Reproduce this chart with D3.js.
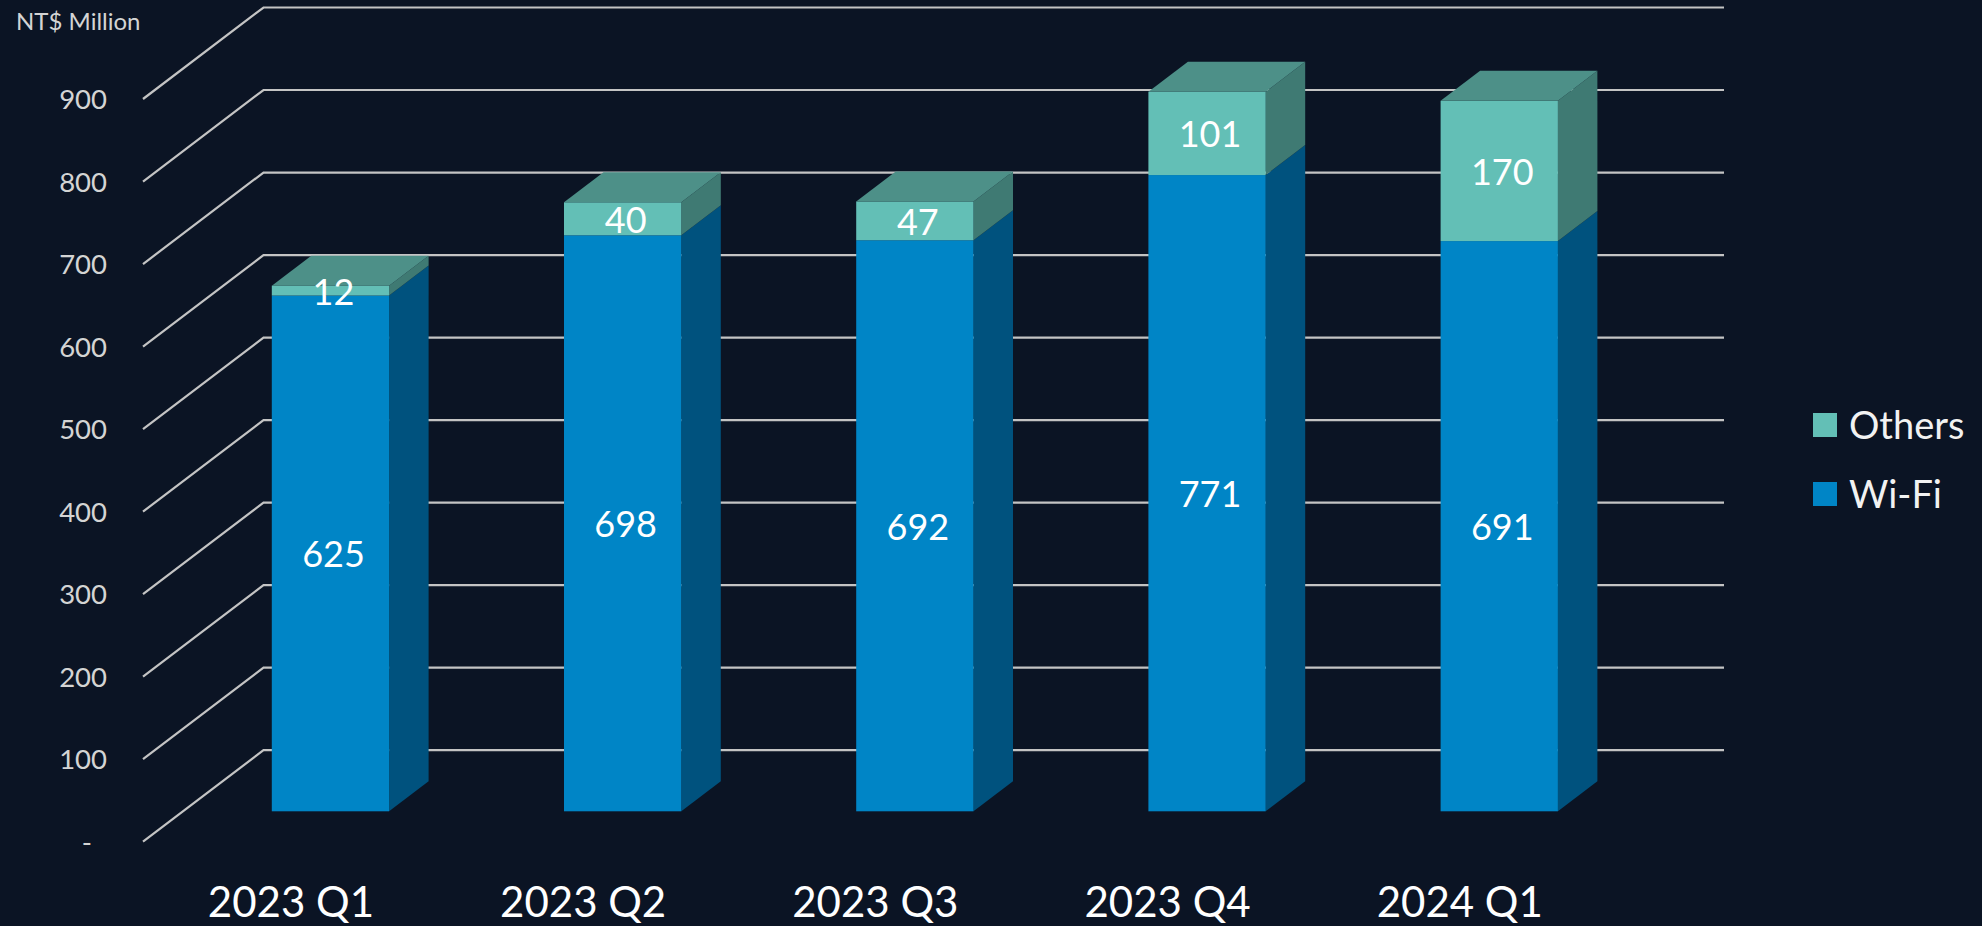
<!DOCTYPE html>
<html>
<head>
<meta charset="utf-8">
<script src="https://cdn.jsdelivr.net/npm/d3@7"></script>
<style>
  html, body { margin: 0; padding: 0; background: #0b1424; overflow: hidden; }
  text { font-family: Lato, "Open Sans", sans-serif; }
</style>
</head>
<body>
<div id="chart"></div>
<script>
// values
const quarters = ['2023 Q1', '2023 Q2', '2023 Q3', '2023 Q4', '2024 Q1'];
const wifi = [625, 698, 692, 771, 691];
const others = [12, 40, 47, 101, 170];
const yTicks = [0, 100, 200, 300, 400, 500, 600, 700, 800, 900];
const legendItems = ['Others', 'Wi-Fi'];

const width = 1982, height = 926;

const svg = d3.select('#chart').append('svg')
  .attr('width', width).attr('height', height)
  .style('display', 'block');

svg.append('rect').attr('width', width).attr('height', height).attr('fill', '#0b1424');

// y scale is the front edge of the floor/wall; wall sits further back
const y = d3.scaleLinear().domain([0, 900]).range([841.7, 99]);
const wall = { x0: 143, x1: 263.5, x2: 1724, dy: 91.5 };

// step 292.2, bar 117.3 wide, first bar starts at 271.8
const barPad = 1 - 117.3 / 292.2;
const x = d3.scaleBand().domain(quarters)
  .range([271.8 - barPad * 292.2 / 2, 271.8 - barPad * 292.2 / 2 + 292.2 * 5])
  .paddingInner(barPad).paddingOuter(barPad / 2);
const barW = x.bandwidth();
const bar = { dx: 39.5, dy: 30, base: 30.4 };

// Gridlines (bent at the wall corner)
svg.append('g').selectAll('path')
  .data(yTicks).join('path')
  .attr('d', d => `M${wall.x0},${y(d)}L${wall.x1},${y(d) - wall.dy}L${wall.x2},${y(d) - wall.dy}`)
  .attr('fill', 'none')
  .attr('stroke', '#c4c4c4')
  .attr('stroke-width', 2.2);

// Y axis labels
const yAxis = d3.axisLeft(y).tickValues(yTicks).tickSize(0).tickPadding(0)
  .tickFormat(d => d === 0 ? '-' : d);
const axisG = svg.append('g').attr('transform', 'translate(107,1)').call(yAxis);
axisG.select('.domain').remove();
axisG.selectAll('text')
  .attr('font-family', 'Lato, sans-serif')
  .attr('font-size', 27.5)
  .attr('fill', '#d4d4d4')
  .attr('dx', d => d === 0 ? -15 : 0);

svg.append('text').attr('x', 16).attr('y', 30)
  .attr('font-size', 24).attr('fill', '#d4d4d4').text('NT$ Million');

// Stacked segments
const segments = d3.stack().keys(['wifi', 'others'])(
  quarters.map((q, i) => ({ q, wifi: wifi[i], others: others[i] }))
);
const faces = {
  wifi: { front: '#0085c6', side: '#00527e', top: '#00527e' },
  others: { front: '#63bfb6', side: '#3f7a73', top: '#4d9088' }
};
const yBar = v => y(v) - bar.base;

const barsG = svg.append('g');
segments.forEach(series => {
  const c = faces[series.key];
  series.forEach(d => {
    const q = d.data.q;
    const x0 = x(q);
    const x1 = x0 + barW;
    const yLow = yBar(d[0]), yHigh = yBar(d[1]);

    // side face
    barsG.append('path')
      .attr('d', `M${x1},${yLow}L${x1 + bar.dx},${yLow - bar.dy}L${x1 + bar.dx},${yHigh - bar.dy}L${x1},${yHigh}Z`)
      .attr('fill', c.side);
    // front face
    barsG.append('rect')
      .attr('x', x0).attr('y', yHigh)
      .attr('width', barW).attr('height', yLow - yHigh)
      .attr('fill', c.front);
    // only the top segment shows its lid
    if (series.key === 'others') {
      barsG.append('path')
        .attr('d', `M${x0},${yHigh}L${x0 + bar.dx},${yHigh - bar.dy}L${x1 + bar.dx},${yHigh - bar.dy}L${x1},${yHigh}Z`)
        .attr('fill', c.top);
    }
  });
});

// Value labels
segments.forEach(series => {
  svg.append('g').selectAll('text')
    .data(series).join('text')
    .attr('x', d => x(d.data.q) + barW / 2 + 3)
    .attr('y', d => (yBar(d[0]) + yBar(d[1])) / 2 + 1)
    .attr('dy', '0.36em')
    .attr('text-anchor', 'middle')
    .attr('font-size', 36)
    .attr('fill', '#ffffff')
    .text(d => d[1] - d[0]);
});

// Category labels sit left of the bars, centred under the wall floor
svg.append('g').selectAll('text')
  .data(quarters).join('text')
  .attr('x', d => x(d) + barW / 2 - 39.5)
  .attr('y', 917)
  .attr('text-anchor', 'middle')
  .attr('font-size', 42)
  .attr('fill', '#ffffff')
  .text(d => d);

// Legend
const legendY = d3.scalePoint().domain(legendItems).range([425, 494]);
const legendColor = d3.scaleOrdinal().domain(legendItems).range([faces.others.front, faces.wifi.front]);
const legend = svg.append('g').selectAll('g')
  .data(legendItems).join('g')
  .attr('transform', d => `translate(1813,${legendY(d)})`);
legend.append('rect')
  .attr('y', -12).attr('width', 24).attr('height', 24)
  .attr('fill', d => legendColor(d));
legend.append('text')
  .attr('x', 36).attr('dy', '0.36em')
  .attr('font-size', 38).attr('fill', '#f2f2f2')
  .text(d => d);
</script>
</body>
</html>
